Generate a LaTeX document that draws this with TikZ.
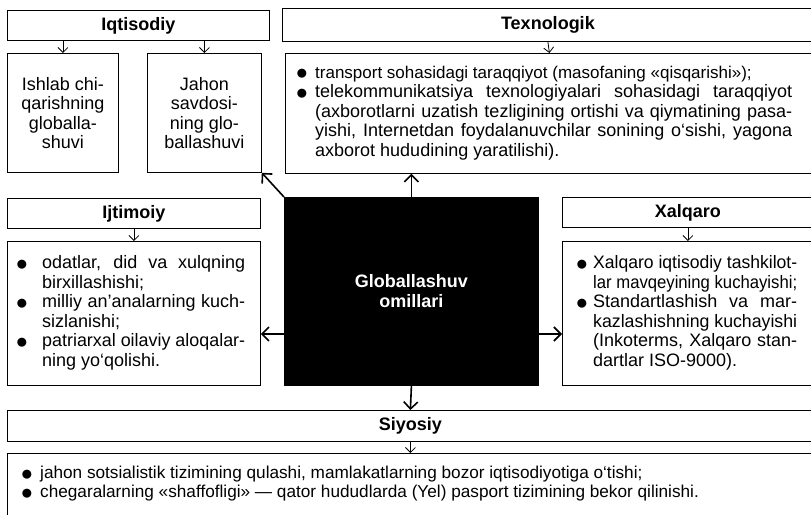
\documentclass[tikz,border=0pt]{standalone}
\usepackage{fontspec}
\setmainfont{Liberation Sans}
\usetikzlibrary{arrows.meta,calc}
\newlength\jwd
\newcommand\jline[2]{\settowidth\jwd{#2}\ifdim\jwd>#1\relax\pgfmathsetmacro\jratio{#1/\jwd}\scalebox{\jratio}[1]{#2}\else\makebox[#1][s]{#2}\fi}
\newcommand\lline[2]{\settowidth\jwd{#2}\ifdim\jwd>#1\relax\pgfmathsetmacro\jratio{#1/\jwd}\scalebox{\jratio}[1]{#2}\else\mbox{#2}\fi}
\newcommand\bul[1]{\makebox[#1][l]{\raisebox{-1.3pt}{\scalebox{1.35}{$\bullet$}}}}
\begin{document}
\begin{tikzpicture}[x=1pt,y=-1pt,
  box/.style={draw, line width=0.8pt, inner sep=0pt, anchor=north west},
  hdr/.style={box, font=\bfseries\fontsize{18}{20}\selectfont},
  cbox/.style={box, align=center, font=\fontsize{18}{19.5}\selectfont},
  txt/.style={inner sep=0pt, align=left, font=\fontsize{18}{19.5}\selectfont, anchor=west},
  sarr/.style={line width=0.8pt, -{Straight Barb[length=5pt,width=10pt]}},
  barr/.style={line width=1.6pt, -{Straight Barb[length=7pt,width=14pt]}}]
\useasboundingbox (0,0) rectangle (811,514);

% Iqtisodiy
\node[hdr, minimum width=262pt, minimum height=30pt] (IqH) at (7,10) {Iqtisodiy};
\node[cbox, minimum width=111pt, minimum height=119pt] (Ishlab) at (7,53)
  {Ishlab chi-\\qarishning\\globalla-\\shuvi};
\node[cbox, minimum width=114pt, minimum height=119pt] (Jahon) at (147,53)
  {Jahon\\savdosi-\\ning glo-\\ballashuvi};

% Texnologik
\node[hdr, minimum width=531pt, minimum height=33pt] (TexH) at (282,8) {Texnologik};
\node[box, minimum width=528pt, minimum height=120pt] (TexB) at (285,53) {};
\node[txt] (TexT) at (296,113) {%
\bul{19pt}\makebox[477pt][l]{\fontsize{17}{19.5}\selectfont transport sohasidagi taraqqiyot (masofaning «qisqarishi»);}\\
\bul{19pt}\jline{477pt}{telekommunikatsiya texnologiyalari sohasidagi taraqqiyot}\\
\hspace*{19pt}\jline{477pt}{(axborotlarni uzatish tezligining ortishi va qiymatining pasa-}\\
\hspace*{19pt}\jline{477pt}{yishi, Internetdan foydalanuvchilar sonining o‘sishi, yagona}\\
\hspace*{19pt}\lline{477pt}{axborot hududining yaratilishi).}};

% Centre
\node[box, fill=black, minimum width=254pt, minimum height=188pt, align=center,
  text=white, font=\bfseries\fontsize{18}{20}\selectfont] (G) at (284,197)
  {Globallashuv\\omillari};

% Ijtimoiy
\node[hdr, minimum width=253pt, minimum height=30pt] (IjH) at (7,198) {Ijtimoiy};
\node[box, minimum width=253pt, minimum height=144pt] (IjB) at (7,241) {};
\node[txt] (IjT) at (16,313) {%
\bul{26pt}\jline{203pt}{odatlar, did va xulqning}\\
\hspace*{26pt}\lline{203pt}{birxillashishi;}\\
\bul{26pt}\jline{203pt}{milliy an’analarning kuch-}\\
\hspace*{26pt}\lline{203pt}{sizlanishi;}\\
\bul{26pt}\jline{203pt}{patriarxal oilaviy aloqalar-}\\
\hspace*{26pt}\lline{203pt}{ning yo‘qolishi.}};

% Xalqaro
\node[hdr, minimum width=251pt, minimum height=30pt] (XaH) at (562,197) {Xalqaro};
\node[box, minimum width=251pt, minimum height=144pt] (XaB) at (562,241) {};
\node[txt] (XaT) at (576,313) {%
\bul{17pt}\jline{204pt}{Xalqaro iqtisodiy tashkilot-}\\
\hspace*{17pt}{\addfontfeatures{FakeStretch=0.93}\jline{204pt}{lar mavqeyining kuchayishi;}}\\
\bul{17pt}\jline{204pt}{Standartlashish va mar-}\\
\hspace*{17pt}\jline{204pt}{kazlashishning kuchayishi}\\
\hspace*{17pt}\jline{204pt}{(Inkoterms, Xalqaro stan-}\\
\hspace*{17pt}\lline{204pt}{dartlar ISO-9000).}};

% Siyosiy
\node[hdr, minimum width=806pt, minimum height=31pt] (SiH) at (7,410) {Siyosiy};
\node[box, minimum width=806pt, minimum height=70pt] (SiB) at (7,453) {};
\node[txt, font=\fontsize{17.2}{19}\selectfont] (SiT) at (21,484) {%
\bul{19pt}\makebox[760pt][l]{jahon sotsialistik tizimining qulashi, mamlakatlarning bozor iqtisodiyotiga o‘tishi;}\\
\bul{19pt}\makebox[760pt][l]{chegaralarning «shaffofligi» — qator hududlarda (Yel) pasport tizimining bekor qilinishi.}};

% small arrows
\draw[sarr] (IqH.south -| Ishlab.north) -- (Ishlab.north);
\draw[sarr] (IqH.south -| Jahon.north) -- (Jahon.north);
\draw[sarr] (TexH.south) -- (TexB.north);
\draw[sarr] (IjH.south) -- (IjB.north);
\draw[sarr] (XaH.south) -- (XaB.north);
\draw[sarr] (SiH.south) -- (SiB.north);

% big arrows
\coordinate (aL) at (284,334);
\coordinate (aR) at (538,334);
\draw[barr] (G.north) -- (TexB.south -| G.north);
\draw[barr] (G.north west) -- (Jahon.south east);
\draw[barr] (aL) -- (aL -| IjB.east);
\draw[barr] (aR) -- (aR -| XaB.west);
\draw[barr] (G.south) -- (SiH.north);
\end{tikzpicture}
\end{document}
